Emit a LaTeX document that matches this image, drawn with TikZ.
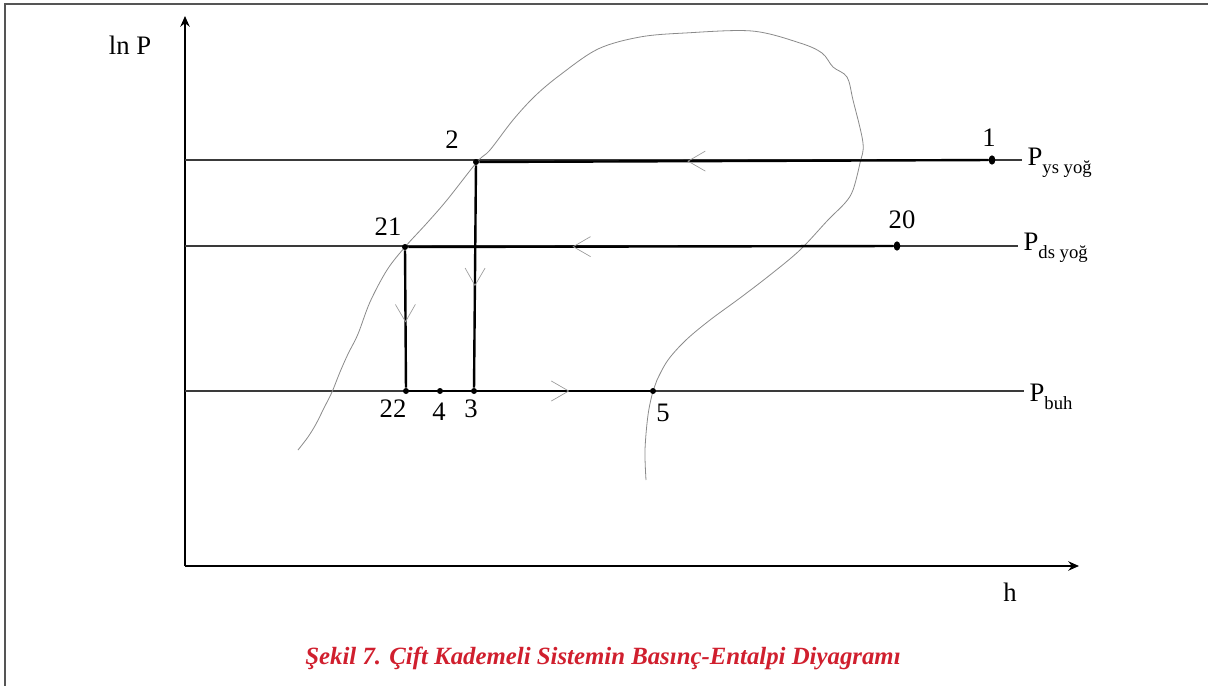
\documentclass[tikz,border=0pt]{standalone}
\usepackage{fontspec}
\setmainfont{Liberation Serif}
\usepackage{tikz}
\usetikzlibrary{arrows.meta,decorations.markings,shapes.geometric}
\definecolor{frameline}{HTML}{555555}
\definecolor{isobarline}{HTML}{3A3A3A}
\definecolor{domeline}{HTML}{8A8A8A}
\definecolor{flowtip}{HTML}{9A9A9A}
\definecolor{captionred}{HTML}{D01F2E}
\tikzset{
  frame/.style={draw=frameline, line width=1.5pt},
  axis/.style={line width=1.5pt, draw=black, -{Stealth[length=8pt,width=7pt]}},
  isobar/.style={line width=0.9pt, draw=isobarline},
  cycleline/.style={line width=1.8pt, draw=black},
  dome/.style={line width=0.6pt, draw=domeline},
  state/.style={circle, fill=black, inner sep=0pt, minimum size=4.5pt},
  bigstate/.style={ellipse, fill=black, inner sep=0pt, minimum width=5pt, minimum height=7pt},
  statelabel/.style={font=\fontsize{20}{22}\selectfont, inner sep=0pt},
  pname/.style={font=\fontsize{20}{22}\selectfont, anchor=base west, inner xsep=4pt, inner ysep=0pt},
  flow/.style={postaction={decorate, decoration={markings,
    mark=at position #1 with {\draw[flowtip, line width=0.5pt] (-13pt,7.5pt) -- (0pt,0pt) -- (-13pt,-7.5pt);}}}},
  caption/.style={font=\fontsize{18.6}{21}\selectfont\bfseries\itshape, text=captionred}
}
\newcommand{\isobarname}[1]{P\raisebox{-0.32em}{\fontsize{14}{14}\selectfont #1}}

\begin{document}
\begin{tikzpicture}[x=0.75pt,y=-0.75pt]
\useasboundingbox (0,0) rectangle (1208,686);
\draw[frame] (5,686) -- (5,4) -- (1208,4);

\coordinate (origin) at (185,566);
\coordinate (ytop) at (185,16);
\coordinate (xend) at (1079,566);
\draw[axis] (origin) -- (ytop);
\draw[axis] (origin) -- (xend);
\node[statelabel] (lnp) at (130,45) {ln P};
\node[statelabel] (hlabel) at (1010,592) {h};

\coordinate (ys0) at (185,160);
\coordinate (ds0) at (185,246);
\coordinate (buh0) at (185,391);
\node[pname] (ysname) at (1022,165) {\isobarname{ys yoğ}};
\node[pname] (dsname) at (1018,250) {\isobarname{ds yoğ}};
\node[pname] (buhname) at (1024,401) {\isobarname{buh}};
\draw[isobar] (ys0) -- (ys0 -| ysname.west);
\draw[isobar] (ds0) -- (ds0 -| dsname.west);
\draw[isobar] (buh0) -- (buh0 -| buhname.west);

\draw[dome] plot[smooth, tension=0.55] coordinates {
  (298,450) (308,437) (316,424) (324,408) (332,392) (340,372) (348,354)
  (358,334) (370,302) (387,270) (405,247) (427,223) (447,200) (477,162)
  (490,150) (513,120) (535,96) (560,75) (598,49) (640,37) (685,33)
  (752,31) (800,43) (822,53) (833,67) (847,77) (853,100) (863,143)
  (860,163) (853,190) (845,203) (828,220) (800,250) (770,275) (740,298)
  (710,320) (686,340) (668,360) (657,380) (653,391) (648,415) (645,450) (646,480)};

\node[state] (p2) at (476,162) {};
\node[bigstate] (p1) at (992,160) {};
\node[bigstate] (p20) at (897,246) {};
\node[state] (p21) at (405,247) {};
\node[state] (p22) at (406,391) {};
\node[state] (p4) at (440,391) {};
\node[state] (p3) at (474,391) {};
\node[state] (p5) at (653,391) {};

\node[statelabel] at (989,138) {1};
\node[statelabel] at (452,140) {2};
\node[statelabel] at (902,220) {20};
\node[statelabel] at (388,227) {21};
\node[statelabel] at (393,409) {22};
\node[statelabel] at (439,412) {4};
\node[statelabel] at (471,409) {3};
\node[statelabel] at (663,413) {5};

\draw[cycleline, flow=0.59] (p1) -- (p2);
\draw[cycleline, flow=0.54] (p2) -- (p3);
\draw[cycleline, flow=0.66] (p20) -- (p21);
\draw[cycleline, flow=0.52] (p21) -- (p22);
\draw[cycleline] (p22) -- (p4) -- (p3);
\draw[cycleline, flow=0.53] (p3) -- (p5);

\node[caption] (fig) at (603,658) {Şekil 7. Çift Kademeli Sistemin Basınç-Entalpi Diyagramı};
\end{tikzpicture}
\end{document}
